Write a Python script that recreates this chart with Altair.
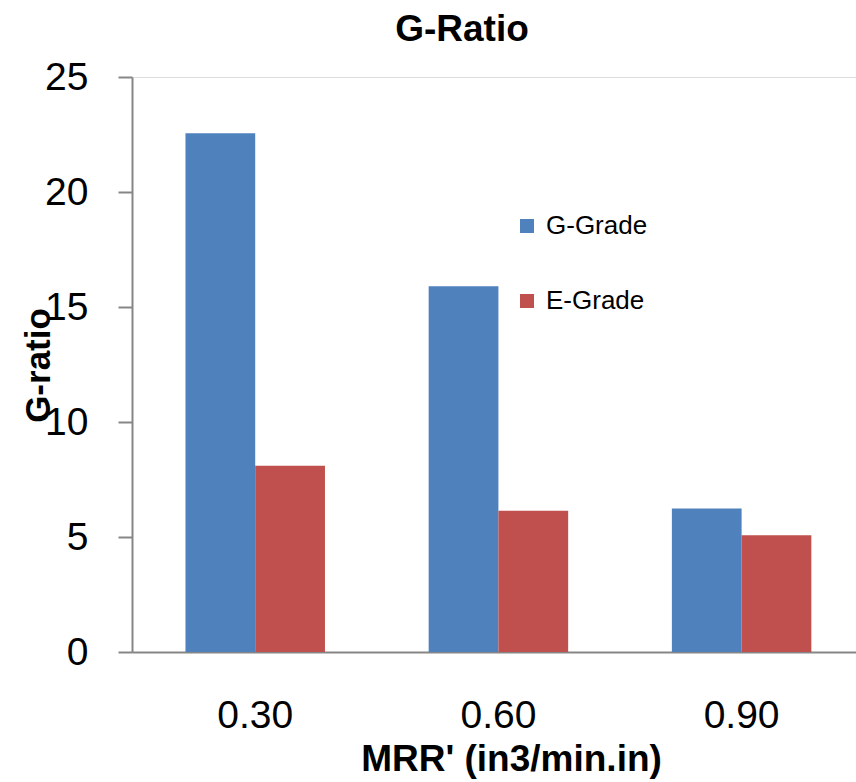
import altair as alt
import pandas as pd

categories = ["0.30", "0.60", "0.90"]
series = ["G-Grade", "E-Grade"]
g_grade = [22.55, 15.9, 6.24]
e_grade = [8.1, 6.14, 5.08]
colors = ["#4F81BD", "#C0504D"]

rows = []
for c, g, e in zip(categories, g_grade, e_grade):
    rows.append({"mrr": c, "series": "G-Grade", "value": g})
    rows.append({"mrr": c, "series": "E-Grade", "value": e})
df = pd.DataFrame(rows)

FONT = "Liberation Sans Narrow, Liberation Sans, sans-serif"

chart = alt.Chart(df).mark_bar().encode(
    x=alt.X("mrr:N", sort=categories,
            scale=alt.Scale(paddingInner=0.4264, paddingOuter=0.2017, align=0.545),
            axis=alt.Axis(title="MRR' (in3/min.in)", labelAngle=0, ticks=False,
                          labelFontSize=39, labelPadding=44, labelFont=FONT,
                          labelColor="#000000", domainColor="#868686", domainWidth=2,
                          titleFont=FONT, titleFontSize=37, titleFontWeight="bold",
                          titleX=379, titleY=118, titleAnchor="middle",
                          titleAlign="center", titleBaseline="alphabetic",
                          titleColor="#000000")),
    xOffset=alt.XOffset("series:N", sort=series,
                        scale=alt.Scale(paddingInner=0, paddingOuter=0)),
    y=alt.Y("value:Q", scale=alt.Scale(domain=[0, 25]),
            axis=alt.Axis(title="G-ratio", values=[0, 5, 10, 15, 20, 25], grid=False,
                          tickSize=14, tickColor="#868686", tickWidth=2,
                          domainColor="#868686", domainWidth=2,
                          labelFontSize=39, labelPadding=30, labelFont=FONT,
                          labelColor="#000000",
                          titleFont=FONT, titleFontSize=35, titleFontWeight="bold",
                          titleAngle=-90, titleX=-94, titleY=288,
                          titleAlign="center", titleBaseline="middle",
                          titleColor="#000000")),
    color=alt.Color("series:N", sort=series,
                    scale=alt.Scale(domain=series, range=colors),
                    legend=alt.Legend(title=None, orient="none", legendX=382, legendY=136,
                                      symbolType="square", symbolSize=196,
                                      symbolStrokeWidth=0,
                                      labelFontSize=26, labelFont=FONT,
                                      labelColor="#000000", rowPadding=49,
                                      labelOffset=6)),
).properties(
    width=724,
    height=575,
    title=alt.Title("G-Ratio", fontSize=37, fontWeight="bold", font=FONT,
                    color="#000000", anchor="middle", dx=-32, offset=9),
    padding={"left": 132, "top": 77, "right": 0, "bottom": 130},
    autosize=alt.AutoSizeParams(type="none"),
).configure_view(stroke=None).configure(background="white")

chart.save("out.html", embed_options={"renderer": "svg", "actions": False})
